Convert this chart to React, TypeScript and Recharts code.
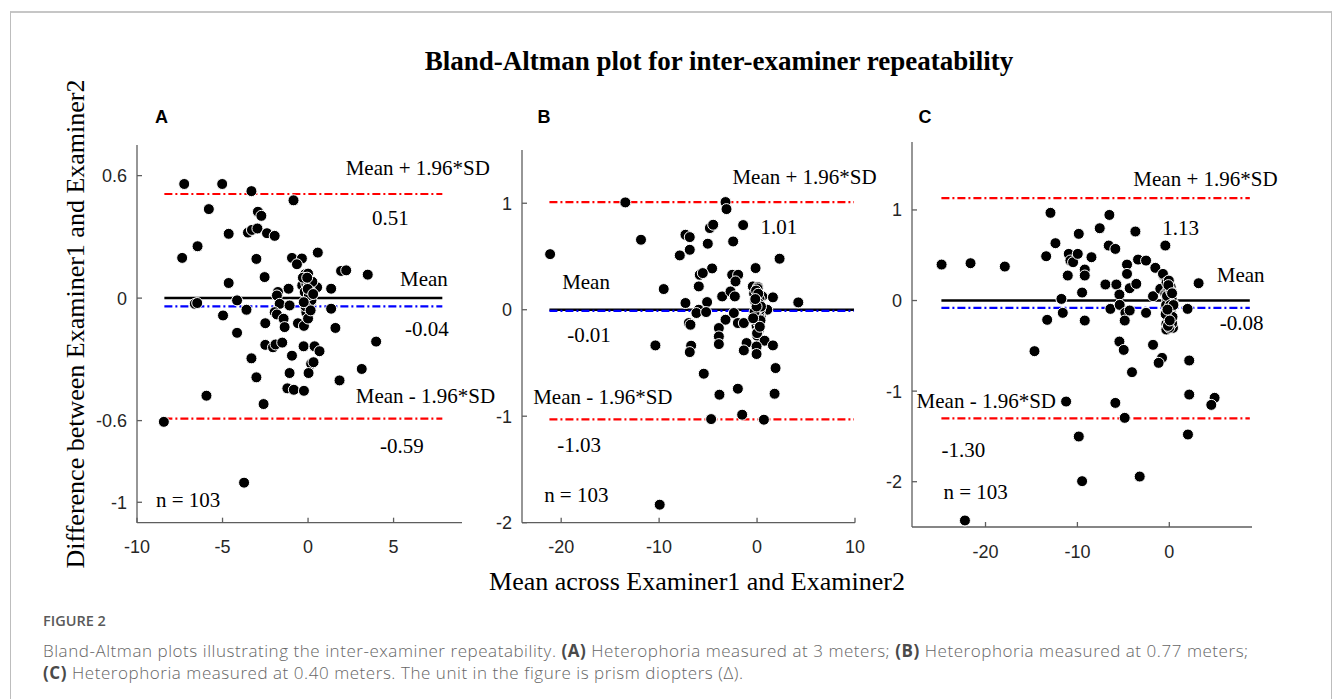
import React from 'react';
import { ScatterChart, Scatter, XAxis, YAxis, ReferenceLine, ReferenceDot } from 'recharts';

const serif = '"Liberation Serif", "Times New Roman", Times, serif';
const sans = '"Liberation Sans", Arial, Helvetica, sans-serif';
const captionFont = '"Open Sans", "Noto Sans", sans-serif';

// ---------- Panel A: Heterophoria at 3 m ----------
const rawA: [number, number][] = [
  [-7.24, 0.559], [-5.02, 0.559], [-3.31, 0.524], [-0.85, 0.479], [-5.8, 0.436], [-2.93, 0.423], [-2.73, 0.403],
  [-4.64, 0.315], [-3.51, 0.321], [-3.28, 0.334], [-2.96, 0.341], [-2.4, 0.318], [-1.95, 0.305], [-6.46, 0.254],
  [-7.36, 0.197], [-3.02, 0.192], [-0.94, 0.197], [-0.36, 0.194], [0.57, 0.223], [-0.65, 0.166], [-0.17, 0.117],
  [1.93, 0.133], [2.23, 0.136], [3.49, 0.115], [-2.54, 0.103], [-4.64, 0.074], [-0.34, 0.062], [-0.05, 0.087],
  [0.53, 0.053], [1.35, 0.046], [-1.14, 0.046], [-1.76, 0.03], [-1.82, 0.013], [0.0, 0.03], [0.09, 0.005],
  [-4.15, -0.011], [-6.62, -0.028], [-6.48, -0.024], [-1.66, -0.028], [-1.08, -0.036], [0.0, -0.028], [0.18, -0.019],
  [1.35, -0.052], [-3.6, -0.057], [-4.97, -0.085], [-0.11, -0.061], [-1.95, -0.069], [-1.82, -0.08], [-1.43, -0.101],
  [-2.5, -0.123], [-1.37, -0.142], [-0.59, -0.123], [-0.24, -0.136], [0.0, -0.093], [1.6, -0.146], [-4.15, -0.17],
  [3.98, -0.213], [-2.5, -0.229], [-2.05, -0.241], [-1.9, -0.227], [-1.51, -0.218], [-0.26, -0.236], [0.38, -0.236],
  [0.67, -0.26], [-3.31, -0.295], [-0.94, -0.282], [0.18, -0.322], [0.32, -0.314], [3.14, -0.347], [-3.02, -0.388],
  [-1.08, -0.367], [0.03, -0.367], [1.84, -0.403], [-1.21, -0.442], [-0.83, -0.449], [-0.24, -0.454], [-5.94, -0.478],
  [-2.6, -0.519], [-8.43, -0.606], [-3.74, -0.904],
  [0.0, 0.12], [0.05, 0.09], [-0.1, 0.07], [0.1, 0.04], [0.0, 0.02], [-0.05, -0.01], [0.08, -0.03], [0.0, -0.05],
  [-0.1, -0.07], [0.12, 0.0], [0.03, 0.06], [-0.2, 0.03], [0.2, -0.01], [0.0, -0.1], [-0.3, 0.1], [0.25, 0.08],
  [-0.15, -0.04], [0.05, 0.015], [-0.02, 0.045], [0.15, -0.06], [-0.25, -0.02], [0.3, 0.02], [-0.05, 0.1],
];
const levelsA = { upper: 0.51, mean: -0.04, lower: -0.59 };
const spanA: [number, number] = [-8.4, 7.85];
const xTicksA = [-10, -5, 0, 5];
const yTicksA = [-1, -0.6, 0, 0.6];
const xDomainA: [number, number] = [-10, 9];
const yDomainA: [number, number] = [-1.1, 0.75];
const notesA = [
  { text: 'Mean + 1.96*SD', x: 2.2, y: 0.641 },
  { text: '0.51', x: 3.74, y: 0.395 },
  { text: 'Mean', x: 5.38, y: 0.095 },
  { text: '-0.04', x: 5.67, y: -0.149 },
  { text: 'Mean - 1.96*SD', x: 2.79, y: -0.478 },
  { text: '-0.59', x: 4.21, y: -0.724 },
  { text: 'n = 103', x: -8.89, y: -0.986 },
];

// ---------- Panel B: Heterophoria at 0.77 m ----------
const rawB: [number, number][] = [
  [-21.13, 0.522], [-13.45, 1.008], [-3.22, 1.011], [-3.12, 0.945], [-11.85, 0.657], [-7.31, 0.704], [-6.87, 0.682],
  [-6.87, 0.563], [-7.89, 0.51], [-4.82, 0.767], [-4.48, 0.798], [-5.03, 0.62], [-2.44, 0.641], [-1.42, 0.795],
  [2.3, 0.479], [-4.59, 0.388], [-5.85, 0.328], [-5.54, 0.344], [-2.54, 0.328], [-1.93, 0.328], [-2.2, 0.266],
  [-0.15, 0.391], [-9.53, 0.194], [-5.95, 0.219], [-3.56, 0.125], [-2.71, 0.172], [-2.27, 0.125], [-0.43, 0.219],
  [0.09, 0.213], [-0.15, 0.15], [0.53, 0.125], [1.62, 0.116], [4.21, 0.069], [-7.31, 0.063], [-5.1, 0.072],
  [-5.95, 0.0], [-6.19, -0.031], [-5.2, -0.022], [-2.37, -0.031], [-0.15, 0.063], [0.02, 0.031], [0.19, -0.016],
  [-0.32, -0.047], [1.04, 0.0], [-6.97, -0.125], [-6.8, -0.141], [-3.22, -0.094], [-1.96, -0.125], [-1.35, -0.125],
  [-0.05, -0.094], [0.19, -0.141], [0.19, -0.188], [-3.9, -0.172], [-3.9, -0.251], [-3.9, -0.323], [-1.07, -0.313],
  [0.02, -0.244], [0.77, -0.291], [-0.05, -0.345], [1.62, -0.335], [-6.73, -0.338], [-6.87, -0.398], [-10.38, -0.335],
  [-1.35, -0.382], [-0.05, -0.416], [1.89, -0.548], [-5.44, -0.601], [-1.96, -0.742], [-3.84, -0.798], [1.79, -0.789],
  [-4.69, -1.027], [-1.52, -0.986], [0.7, -1.033], [-9.94, -1.831], [-0.05, 0.016], [0.36, -0.063],
  [0.0, 0.05], [0.1, 0.02], [-0.1, 0.0], [0.2, -0.05], [-0.2, 0.08], [0.0, -0.1], [0.3, 0.0], [0.05, 0.12],
  [-0.05, -0.15], [0.15, -0.2], [-0.3, 0.15], [0.25, 0.1], [0.0, 0.0], [0.1, -0.12], [-0.15, -0.05], [0.35, -0.1],
  [-0.25, -0.02], [0.05, 0.2], [0.2, 0.06], [-0.1, 0.18], [0.0, -0.22], [0.4, 0.03], [-0.4, -0.08], [0.12, 0.15],
  [-0.05, 0.03], [0.28, -0.16], [-0.18, 0.1],
];
const levelsB = { upper: 1.01, mean: -0.01, lower: -1.03 };
const spanB: [number, number] = [-21.2, 9.9];
const xTicksB = [-20, -10, 0, 10];
const yTicksB = [-2, -1, 0, 1];
const xDomainB: [number, number] = [-24, 10];
const yDomainB: [number, number] = [-2, 1.5];
const notesB = [
  { text: 'Mean + 1.96*SD', x: -2.51, y: 1.252 },
  { text: '1.01', x: 0.36, y: 0.782 },
  { text: 'Mean', x: -19.9, y: 0.266 },
  { text: '-0.01', x: -19.39, y: -0.235 },
  { text: 'Mean - 1.96*SD', x: -22.86, y: -0.814 },
  { text: '-1.03', x: -20.41, y: -1.268 },
  { text: 'n = 103', x: -21.74, y: -1.737 },
];

// ---------- Panel C: Heterophoria at 0.40 m ----------
const rawC: [number, number][] = [
  [-24.78, 0.397], [-21.63, 0.412], [-17.9, 0.375], [-14.67, -0.559], [-22.24, -2.428], [-12.93, 0.968], [-12.39, 0.633],
  [-13.4, 0.489], [-11.74, 0.018], [-11.59, -0.136], [-13.29, -0.213], [-11.05, 0.276], [-10.94, 0.515], [-10.76, 0.442],
  [-10.47, 0.423], [-9.96, 0.515], [-9.85, 0.736], [-9.49, 0.088], [-9.2, 0.342], [-9.2, 0.276], [-9.2, -0.221],
  [-8.47, 0.478], [-7.57, 0.798], [-6.52, 0.945], [-6.59, 0.607], [-5.87, 0.57], [-6.95, 0.177], [-5.76, 0.177],
  [-6.41, -0.092], [-5.43, 0.066], [-5.4, -0.048], [-4.6, 0.397], [-4.6, 0.294], [-4.31, 0.136], [-3.59, 0.184],
  [-3.69, 0.762], [-3.4, 0.452], [-2.53, 0.441], [-1.52, 0.361], [-0.61, 0.276], [-0.43, 0.607], [-4.78, -0.136],
  [-4.85, -0.221], [-4.31, -0.11], [-2.53, -0.136], [-1.77, 0.048], [-0.98, 0.129], [-0.43, 0.074], [-0.07, 0.147],
  [0.18, 0.121], [-0.25, 0.0], [-0.25, -0.074], [0.11, -0.147], [-0.07, -0.221], [-0.32, -0.258], [-0.32, -0.32],
  [0.4, -0.302], [0.47, -0.037], [1.99, -0.092], [3.19, 0.191], [-5.43, -0.453], [-4.96, -0.545], [-1.77, -0.489],
  [-0.79, -0.633], [-1.16, -0.688], [-4.06, -0.791], [2.17, -0.662], [2.17, -1.038], [4.93, -1.074], [4.57, -1.152],
  [-11.23, -1.115], [-5.87, -1.13], [-4.85, -1.295], [2.03, -1.479], [-9.85, -1.501], [-9.49, -1.994], [-3.22, -1.943],
  [-0.69, 0.294],
  [0.0, 0.0], [0.1, 0.05], [-0.2, 0.1], [0.2, -0.1], [-0.1, -0.2], [0.3, -0.25], [0.0, -0.3], [-0.3, 0.2],
  [0.15, 0.15], [-0.05, 0.22], [0.25, 0.02], [-0.35, -0.05], [0.05, -0.12], [-0.15, -0.28], [0.35, -0.18], [0.0, 0.12],
  [-0.25, 0.05], [0.1, -0.05], [-0.4, -0.15], [0.2, 0.1], [0.45, -0.05], [-0.1, 0.17], [0.05, -0.22], [0.3, 0.08],
  [-0.2, -0.1],
];
const levelsC = { upper: 1.13, mean: -0.08, lower: -1.3 };
const spanC: [number, number] = [-24.8, 8.76];
const xTicksC = [-20, -10, 0];
const yTicksC = [-2, -1, 0, 1];
const xDomainC: [number, number] = [-28, 9];
const yDomainC: [number, number] = [-2.5, 1.75];
const notesC = [
  { text: 'Mean + 1.96*SD', x: -3.91, y: 1.343 },
  { text: '1.13', x: -0.76, y: 0.806 },
  { text: 'Mean', x: 5.17, y: 0.287 },
  { text: '-0.08', x: 5.5, y: -0.239 },
  { text: 'Mean - 1.96*SD', x: -27.5, y: -1.104 },
  { text: '-1.30', x: -24.78, y: -1.645 },
  { text: 'n = 103', x: -24.57, y: -2.105 },
];

const toPoints = (raw: [number, number][]) => raw.map(([x, y]) => ({ x, y }));

type Note = { text: string; x: number; y: number };
type PanelProps = {
  plot: { x: number; y: number; w: number; h: number };
  xDomain: [number, number];
  yDomain: [number, number];
  xTicks: number[];
  yTicks: number[];
  raw: [number, number][];
  levels: { upper: number; mean: number; lower: number };
  span: [number, number];
  notes: Note[];
};

const ML = 60, MT = 40, MR = 80, MB = 60, YW = 50, XH = 50;

const Marker = (p: any) =>
  p.cx == null || p.cy == null ? null : (
    <circle cx={p.cx} cy={p.cy} r={5.5} fill="#000" stroke="#fff" strokeWidth={1} />
  );

function Panel({ plot, xDomain, yDomain, xTicks, yTicks, raw, levels, span, notes }: PanelProps) {
  const data = toPoints(raw);
  const seg = (v: number) => [{ x: span[0], y: v }, { x: span[1], y: v }];
  const tickStyle = { fill: '#262626', fontSize: 18, fontFamily: sans };
  return (
    <div style={{ position: 'absolute', left: plot.x - ML, top: plot.y - MT }}>
      <ScatterChart
        width={plot.w + ML + MR}
        height={plot.h + MT + MB}
        margin={{ top: MT, right: MR, bottom: MB - XH, left: ML - YW }}
      >
        <XAxis
          type="number"
          dataKey="x"
          domain={xDomain}
          ticks={xTicks}
          allowDataOverflow
          interval={0}
          height={XH}
          stroke="#5e5e5e"
          strokeWidth={1.3}
          tickSize={-5}
          tickMargin={23}
          tick={tickStyle}
        />
        <YAxis
          type="number"
          dataKey="y"
          domain={yDomain}
          ticks={yTicks}
          allowDataOverflow
          interval={0}
          width={YW}
          stroke="#5e5e5e"
          strokeWidth={1.3}
          tickSize={-5}
          tickMargin={15}
          tick={tickStyle}
        />
        <ReferenceLine segment={seg(levels.upper)} stroke="#ff0000" strokeWidth={2.2} strokeDasharray="8 3 2 3" />
        <ReferenceLine segment={seg(0)} stroke="#000" strokeWidth={2.5} />
        <ReferenceLine segment={seg(levels.mean)} stroke="#0000ff" strokeWidth={2.2} strokeDasharray="8 3 2 3" />
        <ReferenceLine segment={seg(levels.lower)} stroke="#ff0000" strokeWidth={2.2} strokeDasharray="8 3 2 3" />
        <Scatter data={data} isAnimationActive={false} shape={Marker} />
        {notes.map((n, i) => (
          <ReferenceDot
            key={i}
            x={n.x}
            y={n.y}
            r={0}
            fill="none"
            stroke="none"
            label={{ value: n.text, position: 'right', offset: 0, fill: '#000', fontSize: 21, fontFamily: serif }}
          />
        ))}
      </ScatterChart>
    </div>
  );
}

const abs = (s: React.CSSProperties): React.CSSProperties => ({ position: 'absolute', whiteSpace: 'nowrap', ...s });
const bold: React.CSSProperties = { fontWeight: 700, color: '#4a4a4a' };

export default function App() {
  return (
    <div style={{ position: 'absolute', left: 0, top: 0, width: 1333, height: 699, background: '#fff', overflow: 'hidden' }}>
      <div
        style={{
          position: 'absolute', left: 10, top: 11, width: 1322, height: 720, boxSizing: 'border-box',
          borderTop: '2px solid #c6c6c6', borderLeft: '1px solid #bdbdbd', borderRight: '1px solid #bdbdbd',
        }}
      />
      <div style={abs({ left: 719, top: 47.5, transform: 'translateX(-50%)', fontFamily: serif, fontWeight: 700, fontSize: 27, lineHeight: '27px', color: '#000' })}>
        Bland-Altman plot for inter-examiner repeatability
      </div>
      <div style={abs({ left: 76, top: 324, transform: 'translate(-50%, -50%) rotate(-90deg)', fontFamily: serif, fontSize: 26, lineHeight: '26px', color: '#000' })}>
        Difference between Examiner1 and Examiner2
      </div>
      <div style={abs({ left: 697, top: 569, transform: 'translateX(-50%)', fontFamily: serif, fontSize: 26, lineHeight: '26px', color: '#000' })}>
        Mean across Examiner1 and Examiner2
      </div>
      {[
        { t: 'A', x: 161.5 },
        { t: 'B', x: 544 },
        { t: 'C', x: 925 },
      ].map((p) => (
        <div key={p.t} style={abs({ left: p.x, top: 107, transform: 'translateX(-50%)', fontFamily: sans, fontWeight: 700, fontSize: 18, lineHeight: '20px', color: '#000' })}>
          {p.t}
        </div>
      ))}

      <Panel plot={{ x: 137, y: 145, w: 325, h: 377.7 }} xDomain={xDomainA} yDomain={yDomainA} xTicks={xTicksA} yTicks={yTicksA} raw={rawA} levels={levelsA} span={spanA} notes={notesA} />
      <Panel plot={{ x: 522, y: 150, w: 333, h: 372.7 }} xDomain={xDomainB} yDomain={yDomainB} xTicks={xTicksB} yTicks={yTicksB} raw={rawB} levels={levelsB} span={spanB} notes={notesB} />
      <Panel plot={{ x: 911.5, y: 141.7, w: 340, h: 385 }} xDomain={xDomainC} yDomain={yDomainC} xTicks={xTicksC} yTicks={yTicksC} raw={rawC} levels={levelsC} span={spanC} notes={notesC} />

      <div style={abs({ left: 43, top: 612, fontFamily: captionFont, fontWeight: 600, fontSize: 14.5, lineHeight: '18px', color: '#5a5a5a' })}>
        FIGURE 2
      </div>
      <div style={abs({ left: 43, top: 640, fontFamily: captionFont, fontWeight: 300, fontSize: 17, letterSpacing: 0.55, lineHeight: '22px', color: '#666' })}>
        Bland-Altman plots illustrating the inter-examiner repeatability. <b style={bold}>(A)</b> Heterophoria measured at 3 meters;{' '}
        <b style={bold}>(B)</b> Heterophoria measured at 0.77 meters;
        <br />
        <b style={bold}>(C)</b> Heterophoria measured at 0.40 meters. The unit in the figure is prism diopters (Δ).
      </div>
    </div>
  );
}
